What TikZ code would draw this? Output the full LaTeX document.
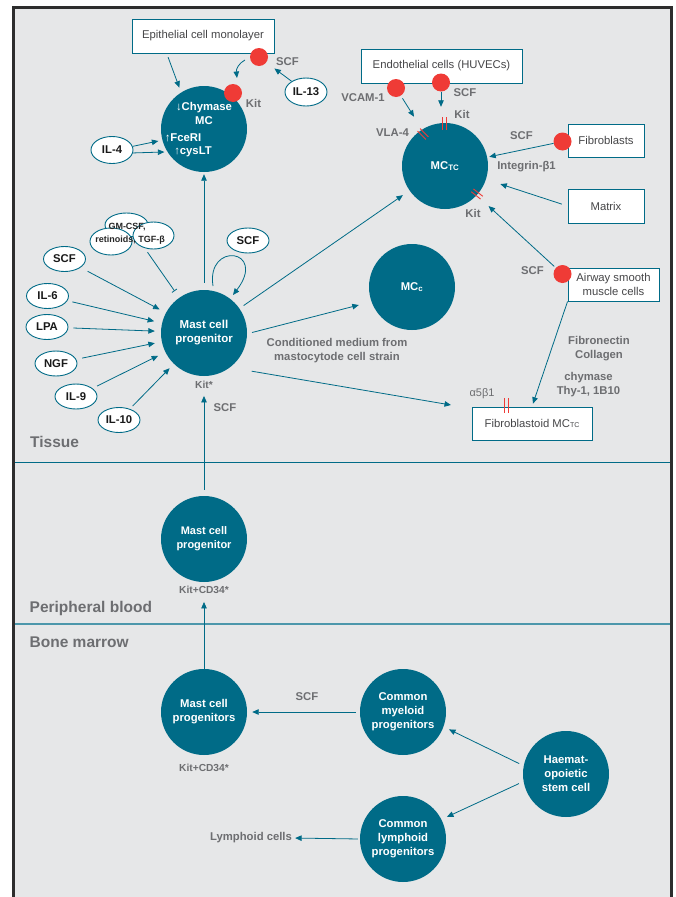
\documentclass[tikz,border=0pt]{standalone}
\usepackage{fontspec}
\setmainfont{Liberation Sans}
\usetikzlibrary{arrows.meta,shapes.geometric,calc}
\definecolor{teal1}{RGB}{0,107,135}
\definecolor{bgg}{RGB}{230,231,232}
\definecolor{dotred}{RGB}{239,59,54}
\definecolor{lblgray}{RGB}{109,110,113}
\definecolor{framec}{RGB}{45,45,45}
\definecolor{boxtxt}{RGB}{70,70,72}
\begin{document}
\begin{tikzpicture}[x=1pt,y=-1pt,
 cell/.style={circle, fill=teal1, minimum size=86pt, inner sep=0pt, text=white, font=\bfseries\fontsize{11.3}{14}\selectfont, align=center},
 celltxt/.style={text=white, font=\bfseries\fontsize{11.3}{13.5}\selectfont, align=center, inner sep=0pt},
 ell/.style={ellipse, draw=teal1, line width=0.9pt, fill=white, minimum width=42pt, minimum height=25pt, inner sep=0pt, font=\bfseries\fontsize{11.3}{13}\selectfont, text=black!90},
 wbox/.style={rectangle, draw=teal1, line width=0.9pt, fill=white, inner sep=0pt, font=\fontsize{11.3}{14}\selectfont, text=boxtxt, align=center},
 reddot/.style={circle, fill=dotred, minimum size=18pt, inner sep=0pt},
 lbl/.style={font=\bfseries\fontsize{11.3}{14}\selectfont, text=lblgray, inner sep=0pt, align=center},
 smlbl/.style={font=\bfseries\fontsize{10.2}{12}\selectfont, text=lblgray, inner sep=0pt},
 region/.style={font=\bfseries\fontsize{15.5}{18}\selectfont, text=lblgray, inner sep=0pt, anchor=west},
 arr/.style={draw=teal1, line width=0.8pt, -{Triangle[length=6.5pt,width=5.5pt]}},
 tickmark/.style={draw=dotred, line width=0.9pt},
]
\useasboundingbox (0,0) rectangle (676,897);
% background and frame
\fill[bgg] (13.5,7.5) rectangle (671,897);
\draw[framec, line width=3pt] (13.5,897) -- (13.5,7.5) -- (671,7.5) -- (671,897);
\draw[teal1, line width=1pt] (15,462) -- (669.5,462);
\draw[teal1!70, line width=1.5pt] (15,624) -- (669.5,624);

% region labels
\node[region] (tissue) at (30,442) {Tissue};
\node[region] (pblood) at (29.5,608) {Peripheral blood};
\node[region] (bmarrow) at (29.5,642) {Bone marrow};

% ===== Chymase MC =====
\node[cell] (chy) at (204,129) {};
\node[celltxt] (chyt1) at (204,113.5) {↓Chymase\\MC};
\node[celltxt] (chyt2) at (183,138) {↑FceRI};
\node[celltxt] (chyt3) at (193,152) {↑cysLT};
\node[wbox, minimum width=142pt, minimum height=34pt] (epi) at (203,36) {Epithelial cell monolayer};
\node[reddot] (episcf) at (259,57) {};
\node[reddot] (chykit) at (233,93) {};
\node[lbl] (episcfl) at (287.5,62) {SCF};
\node[lbl] (chykitl) at (253.5,103) {Kit};
\node[ell, minimum height=28pt] (il13) at (306,92) {IL-13};
\node[ell, minimum height=27pt] (il4) at (112,150) {IL-4};

\draw[arr, shorten <=4pt, shorten >=5pt] ($(epi.south west)!0.246!(epi.south east)$) -- (chy.122);
\draw[arr] ($(episcf)+(-14,3)$) .. controls ($(episcf)+(-20,6)$) and ($(chykit)+(3,-24)$) .. ($(chykit)+(4,-15)$);
\draw[arr, shorten >=10pt] (il13) -- (episcf);
\draw[arr, shorten >=4pt] (il4.10) -- (chy.195);
\draw[arr, shorten >=3pt] (il4.-8) -- (chy.212);

% ===== Tissue mast cell progenitor =====
\node[cell, font=\bfseries\fontsize{11.5}{14}\selectfont] (mcp) at (204,333) {Mast cell\\progenitor};
\node[smlbl] (mcpkit) at (204,385) {Kit*};
\draw[arr, shorten <=7pt, shorten >=2pt] (mcp.north) -- (chy.south);

\node[ell] (scf1) at (64.5,259) {SCF};
\node[ell] (il6) at (47.5,296) {IL-6};
\node[ell] (lpa) at (47,327) {LPA};
\node[ell] (ngf) at (56,363.5) {NGF};
\node[ell] (il9) at (76,396.5) {IL-9};
\node[ell] (il10) at (119,420) {IL-10};
\node[ell] (scf2) at (248,240.5) {SCF};

\draw[arr, shorten <=8pt, shorten >=7pt] (scf1) -- (mcp);
\draw[arr, shorten <=5pt, shorten >=8pt] (il6) -- (mcp);
\draw[arr, shorten <=5pt, shorten >=6pt] (lpa) -- (mcp);
\draw[arr, shorten <=6pt, shorten >=7pt] (ngf) -- (mcp);
\draw[arr, shorten <=5pt, shorten >=8pt] (il9) -- (mcp);
\draw[arr, shorten <=4pt, shorten >=6pt] (il10) -- (mcp);

% GM-CSF cluster
\node[ell, minimum width=43pt, minimum height=24pt] (gm1) at (126.5,225) {};
\node[ell, minimum width=41pt, minimum height=27pt] (gm3) at (153.5,235.5) {};
\node[ell, minimum width=42pt, minimum height=27pt] (gm2) at (111,241.5) {};
\node[font=\bfseries\fontsize{9}{10}\selectfont, text=black!85, inner sep=0pt] (gmt1) at (127,227) {GM-CSF,};
\node[font=\bfseries\fontsize{9}{10}\selectfont, text=black!85, inner sep=0pt] (gmt2) at (130,240) {retinoids, TGF-β};
\draw[teal1, line width=0.8pt, -{Bar[width=6pt]}, shorten <=5pt, shorten >=8pt] (gm3.235) -- (mcp);

% self loop
\draw[arr] ($(mcp)+(9,-47)$) .. controls ($(mcp)+(2,-92)$) and ($(mcp)+(64,-84)$) .. ($(mcp)+(29,-38)$);

% ===== MC_TC =====
\node[cell] (mctc) at (445,166) {MC\textsubscript{TC}};
\node[wbox, minimum width=161pt, minimum height=34pt] (endo) at (441.5,66) {Endothelial cells (HUVECs)};
\node[reddot] (vcam) at (396,88) {};
\node[reddot] (endoscf) at (441,82.5) {};
\node[lbl] (vcaml) at (363,98) {VCAM-1};
\node[lbl] (endoscfl) at (465,93) {SCF};
\node[lbl] (kit1) at (462,114) {Kit};
\node[lbl] (vla) at (392.5,133) {VLA-4};
\node[lbl] (fibscfl) at (521.5,136) {SCF};
\node[lbl] (integ) at (526.5,167) {Integrin-β1};
\node[lbl] (kit2) at (473,213) {Kit};
\node[wbox, minimum width=76pt, minimum height=33pt] (fibro) at (606,140.5) {Fibroblasts};
\node[reddot] (fibdot) at (562.5,141.5) {};
\node[wbox, minimum width=76pt, minimum height=34pt] (matrix) at (606,206) {Matrix};

\draw[arr, shorten <=3pt, shorten >=15pt] (vcam) -- (mctc);
\draw[arr, shorten >=16pt] (endoscf) -- (endoscf |- mctc.north);
\draw[arr, shorten >=2pt] (fibdot) -- (mctc);
\draw[arr, shorten <=6pt, shorten >=15pt] (matrix.west) -- (mctc);
\draw[arr, shorten <=5pt, shorten >=8pt] (mcp) -- (mctc);

% ticks
\draw[tickmark] (442,117) -- (442,130);
\draw[tickmark] (446,117) -- (446,130);
\draw[tickmark] (420.1,128.5) -- (428.5,136.9);
\draw[tickmark] (417.5,131.1) -- (425.9,139.5);
\draw[tickmark] (473.4,188.9) -- (482.8,196.3);
\draw[tickmark] (471.2,191.7) -- (480.6,199.1);

% ===== MC_c =====
\node[cell] (mcc) at (412,287) {MC\textsubscript{c}};
\draw[arr, shorten <=5pt, shorten >=13pt] (mcp.-1) -- (mcc.200);
\node[lbl] (cond) at (337,351) {Conditioned medium from\\mastocytode cell strain};

% ===== Airway / Fibroblastoid =====
\node[wbox, minimum width=91pt, minimum height=33pt] (air) at (613.5,284.5) {Airway smooth\\muscle cells};
\node[reddot] (airdot) at (562.5,274) {};
\node[lbl] (airscf) at (532.5,271) {SCF};
\draw[arr, shorten <=2pt, shorten >=16pt] (airdot) -- (mctc);

\node[wbox, minimum width=120pt, minimum height=33pt] (fib) at (532,423.5) {Fibroblastoid MC{\fontsize{7}{8}\selectfont TC}};
\draw[arr, shorten >=3pt] (air.south west) -- (fib.north);
\node[lbl] (fibcol) at (599,349) {Fibronectin\\Collagen};
\node[lbl] (chymthy) at (588.5,385) {chymase\\Thy-1, 1B10};
\node[font=\fontsize{11}{12}\selectfont, text=lblgray, inner sep=0pt] (a5) at (482,394) {α5β1};
\draw[tickmark] (504,398) -- (504,413);
\draw[tickmark] (508.3,398) -- (508.3,413);
\coordinate (a5tip) at (451,405);
\draw[arr, shorten <=22pt] (mcp.-53) -- (a5tip);

% ===== Peripheral blood =====
\node[cell, font=\bfseries\fontsize{11}{14}\selectfont] (pbmcp) at (204,539) {Mast cell\\progenitor};
\node[smlbl] (pbkit) at (204,590) {Kit+CD34*};
\draw[arr, shorten <=6pt, shorten >=7pt] (pbmcp.north) -- (mcpkit.south);
\node[lbl] (pbscf) at (225,408) {SCF};

% ===== Bone marrow =====
\node[cell] (bmmcp) at (204,712) {Mast cell\\progenitors};
\node[smlbl] (bmkit) at (204,768) {Kit+CD34*};
\draw[arr, shorten >=8pt] (bmmcp.north) -- (pbkit.south);
\node[cell] (cmp) at (403,712) {Common\\myeloid\\progenitors};
\node[cell] (hsc) at (566,774) {Haemat-\\opoietic\\stem cell};
\node[cell] (clp) at (403,839) {Common\\lymphoid\\progenitors};
\node[lbl] (lymph) at (251,838) {Lymphoid cells};
\node[lbl] (bmscf) at (307,697) {SCF};
\draw[arr, shorten <=4pt, shorten >=5pt] (cmp.west) -- (bmmcp.east);
\draw[arr, shorten <=5pt, shorten >=6pt] (hsc.169) -- (cmp.-20);
\draw[arr, shorten <=5pt, shorten >=6pt] (hsc.190) -- (clp.27);
\draw[arr, shorten <=2pt, shorten >=3pt] (clp.west) -- (lymph.east);
\end{tikzpicture}
\end{document}
